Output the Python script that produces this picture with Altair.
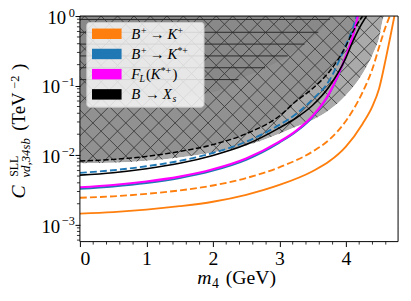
import altair as alt
import pandas as pd

# ---------------- data ----------------
m_orange_solid = [0, 0.5, 1, 1.5, 2, 2.5, 3, 3.5, 3.75, 4, 4.25, 4.4, 4.5, 4.6, 4.67, 4.73]
c_orange_solid = [1.445e-3, 1.518e-3, 1.647e-3, 1.845e-3, 2.138e-3, 2.687e-3, 3.722e-3, 5.875e-3,
                  8.14e-3, 0.01328, 0.02812, 0.0506, 0.0910, 0.2420, 0.5125, 1.0]

m_orange_dash = [0, 0.5, 1, 1.5, 2, 2.5, 3, 3.5, 3.75, 4, 4.25, 4.4, 4.5, 4.6, 4.66]
c_orange_dash = [2.436e-3, 2.558e-3, 2.775e-3, 3.111e-3, 3.662e-3, 4.677e-3, 6.696e-3, 0.01128,
                 0.01669, 0.03101, 0.0799, 0.1747, 0.3579, 0.7099, 1.0]

m_kstar = [0, 0.5, 1, 1.5, 2, 2.5, 3, 3.25, 3.5, 3.75, 4, 4.1, 4.18]
c_magenta = [3.452e-3, 3.722e-3, 4.173e-3, 4.911e-3, 6.274e-3, 8.98e-3, 0.01563, 0.02238, 0.0365,
             0.0773, 0.2669, 0.4961, 1.0]
c_blue_solid = [3.267e-3, 3.544e-3, 3.974e-3, 4.677e-3, 5.972e-3, 8.55e-3, 0.01513, 0.02166,
                0.03533, 0.0760, 0.2626, 0.4961, 1.0]

m_blue_dash = [0, 0.5, 1, 1.5, 2, 2.5, 3, 3.25, 3.5, 3.75, 4, 4.1, 4.16]
c_blue_dash = [5.559e-3, 6.072e-3, 6.917e-3, 8.275e-3, 0.01074, 0.01563, 0.02721, 0.03896, 0.06355,
               0.1181, 0.3822, 0.6436, 1.0]

m_black_solid = [0, 0.5, 1, 1.5, 2, 2.5, 3, 3.25, 3.5, 3.75, 4, 4.1, 4.2, 4.31]
c_black_solid = [5.158e-3, 5.596e-3, 6.375e-3, 7.628e-3, 9.90e-3, 0.01418, 0.02469, 0.03420,
                 0.05225, 0.09712, 0.2500, 0.4214, 0.6651, 1.0]

m_black_dash = [0, 0.5, 1, 1.5, 2, 2.5, 3, 3.25, 3.5, 3.75, 4, 4.1, 4.25]
c_black_dash = [8.22e-3, 8.69e-3, 9.585e-3, 0.01128, 0.01418, 0.02029, 0.0365, 0.05954, 0.0910,
                0.1584, 0.3698, 0.5838, 1.0]

# lower edge of the light grey excluded band
m_band = [0, 0.5, 1, 1.5, 2, 2.5, 3, 3.25, 3.5, 3.75, 4, 4.25, 4.4, 4.5, 4.58, 4.785]
c_band = [7.628e-3, 7.753e-3, 8.275e-3, 9.28e-3, 0.01092, 0.01372, 0.02029, 0.02550, 0.03204,
          0.04439, 0.07242, 0.1484, 0.2757, 0.4800, 1.0, 1.0]

# lower edge of the horizontally hatched region
m_hreg = [0, 0.5, 1, 1.5, 2, 2.2, 2.4, 2.8, 3.13, 3.38, 3.59, 3.76, 3.84]
c_hreg = [0.05578, 0.05762, 0.06152, 0.06783, 0.0799, 0.0940, 0.1220, 0.1805, 0.2669, 0.3947,
          0.5838, 0.8920, 1.0]
h_levels = [0.892, 0.584, 0.395, 0.267, 0.1805, 0.122]
h_ends = [3.76, 3.585, 3.378, 3.126, 2.785, 2.385]

legend_colors = ["#ff7f0e", "#1f77b4", "#ff00ff", "#000000"]

x_ticks = [0, 1, 2, 3, 4]
y_ticks = [1e-3, 1e-2, 1e-1, 1.0]
y_tick_exp = ["−3", "−2", "−1", "0"]

# ---------------- layout / style ----------------
W, H = 323, 229
XMAX = 4.785
YMIN, YMAX = 5.71e-4, 1.0
SERIF = "Liberation Serif"

xs = alt.Scale(domain=[0, XMAX], nice=False, zero=False)
ys = alt.Scale(type="log", domain=[YMIN, YMAX], nice=False)

AX = alt.Axis(values=x_ticks, tickSize=5, tickColor="black", domain=False, grid=False,
              title=None, labelFont=SERIF, labelFontSize=20, labelColor="black",
              labelPadding=2, zindex=1)
AY = alt.Axis(values=y_ticks, tickSize=5, tickColor="black", domain=False, grid=False,
              title=None, labels=False, zindex=1)


def X(f="m"):
    return alt.X(f"{f}:Q", scale=xs, axis=AX)


def Y(f="c"):
    return alt.Y(f"{f}:Q", scale=ys, axis=AY)


def PX(f):
    return alt.X(f"{f}:Q", scale=None, axis=None)


def PY(f):
    return alt.Y(f"{f}:Q", scale=None, axis=None)


def region(m, c, color, opacity):
    df = pd.DataFrame({"m": m, "c": c, "top": [YMAX] * len(m)})
    return alt.Chart(df).mark_area(color=color, opacity=opacity, clip=True,
                                   interpolate="monotone").encode(
        x=X(), y=Y(), y2="top:Q")


def line(m, c, color, width=1.9, dash=None):
    df = pd.DataFrame({"m": m, "c": c})
    kw = dict(color=color, strokeWidth=width, clip=True, interpolate="monotone")
    if dash:
        kw["strokeDash"] = dash
    return alt.Chart(df).mark_line(**kw).encode(x=X(), y=Y())


def text(t, x, y, size, style="normal", align="left", baseline="alphabetic", angle=0):
    kw = dict(font=SERIF, fontSize=size, fontStyle=style, align=align, baseline=baseline,
              color="black")
    if angle:
        kw["angle"] = angle
    return alt.Chart(pd.DataFrame({"t": [t], "x": [x], "y": [y]})).mark_text(**kw).encode(
        x=PX("x"), y=PY("y"), text="t:N")


layers = []
layers.append(region(m_band, c_band, "#aaaaaa", 1.0))
layers.append(region(m_black_dash, c_black_dash, "#707070", 0.42))
layers.append(region(m_hreg, c_hreg, "#000000", 0.05))

# cross hatch texture, masked below the band edge
S = 16.7
hatch = []
k = -H
while k < W + H:
    hatch.append({"x1": k, "y1": 0, "x2": k - H, "y2": H})
    hatch.append({"x1": k, "y1": 0, "x2": k + H, "y2": H})
    k += S
layers.append(alt.Chart(pd.DataFrame(hatch)).mark_rule(
    color="#3a3a3a", strokeWidth=0.9, clip=True).encode(
    x=PX("x1"), y=PY("y1"), x2="x2:Q", y2="y2:Q"))

mask = pd.DataFrame({"m": m_band, "c": c_band, "bot": [YMIN] * len(m_band)})
layers.append(alt.Chart(mask).mark_area(color="white", opacity=1, clip=True,
                                        interpolate="monotone").encode(
    x=X(), y=Y(), y2="bot:Q"))

hl = pd.DataFrame({"c": h_levels, "m0": [0] * len(h_levels), "m1": h_ends})
layers.append(alt.Chart(hl).mark_rule(color="#2a2a2a", strokeWidth=1.0, clip=True).encode(
    x=X("m0"), x2="m1:Q", y=Y()))

# curves
layers.append(line(m_orange_solid, c_orange_solid, "#ff7f0e"))
layers.append(line(m_orange_dash, c_orange_dash, "#ff7f0e", dash=[7, 3.2]))
layers.append(line(m_kstar, c_blue_solid, "#1f77b4"))
layers.append(line(m_blue_dash, c_blue_dash, "#1f77b4", dash=[7, 3.2]))
layers.append(line(m_kstar, c_magenta, "#ff00ff", width=2.2))
layers.append(line(m_black_solid, c_black_solid, "#000000", width=1.6))
layers.append(line(m_black_dash, c_black_dash, "#000000", width=1.5, dash=[5.5, 2.4]))

# minor ticks
x_minor = [round(0.2 * i, 1) for i in range(1, 24) if i % 5 != 0]
layers.append(alt.Chart(pd.DataFrame({"m": x_minor})).mark_rule(color="black", strokeWidth=0.8).encode(
    x=X(), y=alt.value(H), y2=alt.value(H + 3)))
y_minor = [k * 10.0 ** d for d in (-4, -3, -2, -1) for k in range(2, 10)
           if YMIN <= k * 10.0 ** d <= YMAX]
layers.append(alt.Chart(pd.DataFrame({"c": y_minor})).mark_rule(color="black", strokeWidth=0.8).encode(
    y=Y(), x=alt.value(0), x2=alt.value(-3)))

# y tick labels 10^k
yl = pd.DataFrame({"c": y_ticks, "e": y_tick_exp,
                   "xb": [-6 - (8 if e == "0" else 14) for e in y_tick_exp]})
layers.append(alt.Chart(yl).mark_text(font=SERIF, fontSize=19, align="right", baseline="alphabetic",
                                      dy=8, color="black", text="10").encode(
    y=Y(), x=PX("xb")))
layers.append(alt.Chart(yl).mark_text(font=SERIF, fontSize=12.5, align="right", baseline="alphabetic",
                                      dy=0.5, color="black").encode(
    y=Y(), x=alt.value(-5), text="e:N"))

# frame
layers.append(alt.Chart(pd.DataFrame({"a": [0]})).mark_rect(
    fillOpacity=0, stroke="black", strokeWidth=1).encode(
    x=alt.value(0), x2=alt.value(W), y=alt.value(0), y2=alt.value(H)))

# legend
LX0, LX1, LY0, LY1 = 7, 126, 6.5, 92.5
rows = [18, 38.5, 59, 79.5]
layers.append(alt.Chart(pd.DataFrame({"a": [0]})).mark_rect(
    fill="white", fillOpacity=0.8, stroke="#cccccc", strokeWidth=1, cornerRadius=3).encode(
    x=alt.value(LX0), x2=alt.value(LX1), y=alt.value(LY0), y2=alt.value(LY1)))
leg = pd.DataFrame({"col": legend_colors, "y0": [r - 5.3 for r in rows],
                    "y1": [r + 5.3 for r in rows], "x0": [12.3] * 4, "x1": [42.3] * 4})
layers.append(alt.Chart(leg).mark_rect().encode(
    x=PX("x0"), x2="x1:Q", y=PY("y0"), y2="y1:Q",
    color=alt.Color("col:N", scale=None, legend=None)))
LT = 52
for r, parts in zip(rows, [
    [("B", 0, 0, 15, "italic"), ("+", 10, -5, 10, "normal"), ("→", 19, 0, 15, "normal"),
     ("K", 37, 0, 15, "italic"), ("+", 47, -5, 10, "normal")],
    [("B", 0, 0, 15, "italic"), ("+", 10, -5, 10, "normal"), ("→", 19, 0, 15, "normal"),
     ("K", 37, 0, 15, "italic"), ("*+", 47, -5, 10, "normal")],
    [("F", 0, 0, 15, "italic"), ("L", 8.5, 3, 10, "italic"), ("(", 15, 0, 15, "normal"),
     ("K", 20, 0, 15, "italic"), ("*+", 30, -5, 10, "normal"), (")", 42, 0, 15, "normal")],
    [("B", 0, 0, 15, "italic"), ("→", 14, 0, 15, "normal"), ("X", 32, 0, 15, "italic"),
     ("s", 42, 3, 10, "italic")],
]):
    for t, dx, dy, s, st in parts:
        layers.append(text(t, LT + dx, r + 5 + dy, s, st))

# axis titles
layers.append(text("m", 119, 272, 20, "italic"))
layers.append(text("4", 134, 276, 14))
layers.append(text("(GeV)", 148, 272, 20))

for t, x, y, s, st in [("C", -61.5, 178.5, 20, "italic"), ("SLL", -66.5, 152.5, 12, "normal"),
                       ("νd,34sb", -55, 144, 13, "italic"), ("(TeV", -62, 97, 19, "normal"),
                       ("−2", -66, 67, 12.5, "normal"), (")", -62, 51.5, 19, "normal")]:
    layers.append(text(t, x, y, s, st, align="center", baseline="middle", angle=270))

chart = alt.layer(*layers).properties(
    width=W, height=H,
    autosize=alt.AutoSizeParams(type="none"),
    padding={"left": 73, "top": 6, "right": 5, "bottom": 50},
).configure_view(stroke=None)

chart.save("out.html", embed_options={"renderer": "svg", "actions": False})
